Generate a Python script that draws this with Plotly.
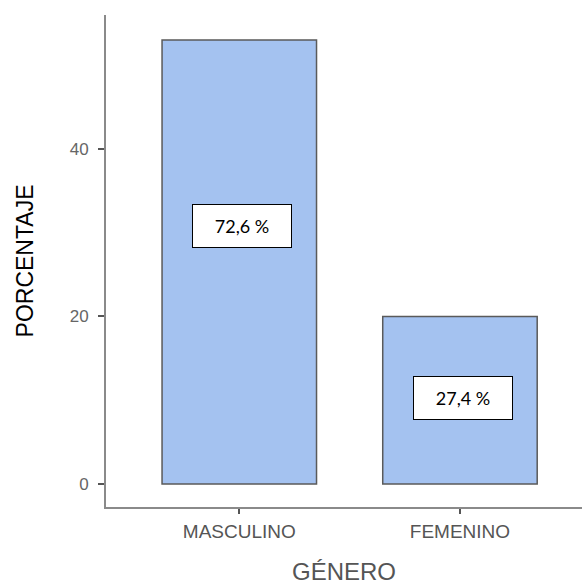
import plotly.graph_objects as go

categories = ["MASCULINO", "FEMENINO"]
counts = [53, 20]
pct_labels = ["72,6 %", "27,4 %"]
label_y = [30.8, 10.3]
y_ticks = [0, 20, 40]

fig = go.Figure()
fig.add_trace(go.Bar(
    x=categories, y=counts, width=0.7,
    marker=dict(color="#A4C2F0", line=dict(color="#5a5a5a", width=1.5)),
    hoverinfo="skip", showlegend=False,
))

for c, lab, ly in zip(categories, pct_labels, label_y):
    fig.add_annotation(
        x=c, y=ly, xref="x", yref="y", text=lab, showarrow=False,
        xshift=3, width=96, height=40,
        bgcolor="white", bordercolor="black", borderwidth=1,
        font=dict(family="Lato, Arial, sans-serif", size=18, color="black"),
    )

fig.update_layout(
    width=582, height=585,
    margin=dict(l=106, r=0, t=15, b=78),
    plot_bgcolor="white", paper_bgcolor="white",
    bargap=0.3,
)
fig.update_xaxes(
    range=[-0.604, 1.553],
    showline=True, linecolor="#8a8a8a", linewidth=2,
    ticks="outside", ticklen=5, tickcolor="#555", tickwidth=2,
    tickfont=dict(family="Liberation Sans, Arial, sans-serif", size=19, color="#555"),
    ticklabelstandoff=1,
    showgrid=False, zeroline=False,
    title=dict(text="GÉNERO", standoff=22,
               font=dict(family="Liberation Sans, Arial, sans-serif", size=24, color="#555")),
)
fig.update_yaxes(
    range=[-2.75, 56.0],
    tickvals=y_ticks,
    showline=True, linecolor="#8a8a8a", linewidth=2,
    ticks="outside", ticklen=6, tickcolor="#555", tickwidth=2,
    tickfont=dict(family="Liberation Sans, Arial, sans-serif", size=17, color="#666"),
    ticklabelstandoff=6,
    showgrid=False, zeroline=False,
    title=dict(text="PORCENTAJE", standoff=30,
               font=dict(family="Liberation Sans, Arial, sans-serif", size=23, color="black")),
)

fig.write_html("out.html")
